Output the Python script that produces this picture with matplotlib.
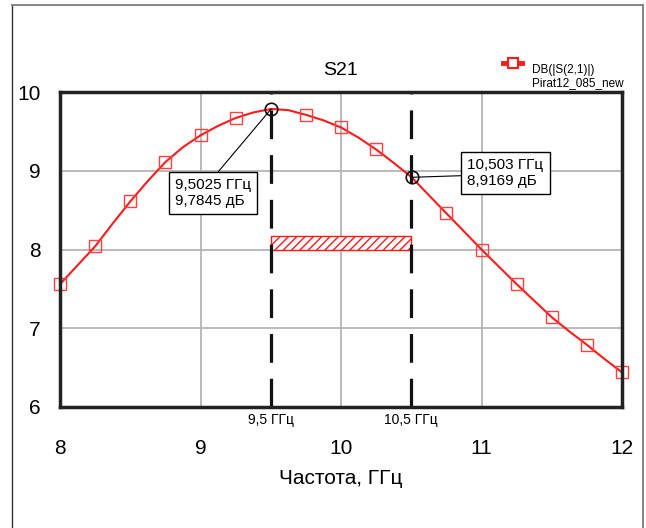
import numpy as np
import matplotlib
matplotlib.use("Agg")
import matplotlib.pyplot as plt
from matplotlib.lines import Line2D
from matplotlib.patches import Rectangle

plt.rcParams['font.family'] = ['Liberation Sans', 'DejaVu Sans']
plt.rcParams['hatch.linewidth'] = 1.0

# S21 curve (GHz, dB)
freq = [8.0, 8.125, 8.25, 8.375, 8.5, 8.625, 8.75, 8.875, 9.0, 9.125, 9.25,
        9.375, 9.5025, 9.625, 9.75, 9.875, 10.0, 10.125, 10.25, 10.375, 10.503,
        10.625, 10.75, 10.875, 11.0, 11.125, 11.25, 11.375, 11.5, 11.625,
        11.75, 11.875, 12.0]
s21 = [7.56, 7.80, 8.04, 8.33, 8.61, 8.87, 9.11, 9.30, 9.45, 9.57, 9.67,
       9.74, 9.7845, 9.77, 9.71, 9.64, 9.55, 9.42, 9.27, 9.10, 8.9169,
       8.69, 8.46, 8.23, 8.00, 7.78, 7.56, 7.35, 7.14, 6.96,
       6.79, 6.61, 6.44]
# square markers every 0.25 GHz (none at 9.5 / 10.5)
mark_idx = [0, 2, 4, 6, 8, 10, 14, 16, 18, 22, 24, 26, 28, 30, 32]

# marker readouts
m_freq = [9.5025, 10.503]
m_val = [9.7845, 8.9169]
m_text = ["9,5025 ГГц\n9,7845 дБ", "10,503 ГГц\n8,9169 дБ"]

# band limits and spec mask
band = [9.5, 10.5]
band_text = ["9,5 ГГц", "10,5 ГГц"]
mask_lo, mask_hi = 8.0, 8.175

red = '#ff1a1a'

fig = plt.figure(figsize=(6.46, 5.28), dpi=100)
ax = fig.add_axes([60/646, 1-407/528, 562/646, 315/528])

ax.set_xlim(8, 12)
ax.set_ylim(6, 10)
ax.set_xticks([8, 9, 10, 11, 12])
ax.set_yticks([6, 7, 8, 9, 10])
ax.grid(True, color='#b4b4b4', lw=1.3)
ax.set_axisbelow(True)
ax.tick_params(length=0, labelsize=15)
ax.tick_params(axis='x', pad=23)
ax.tick_params(axis='y', pad=14)
for sp in ax.spines.values():
    sp.set_linewidth(2.5)
    sp.set_color('#222222')
    sp.set_zorder(5)

ax.set_title("S21", fontsize=14, pad=12)
ax.set_xlabel("Частота, ГГц", fontsize=15, labelpad=8)

# mask rectangle
ax.add_patch(Rectangle((band[0], mask_lo), band[1]-band[0], mask_hi-mask_lo,
                       facecolor='white', edgecolor=red, hatch='////', lw=1.0,
                       zorder=2))

ax.plot(freq, s21, color=red, lw=1.5, marker='s', markersize=8,
        markerfacecolor='none', markeredgecolor='#ff4040', markeredgewidth=1.0,
        markevery=mark_idx, clip_on=False, zorder=3)

for b, t in zip(band, band_text):
    ax.axvline(b, color='#111111', lw=2.3, linestyle=(0, (9, 5)), zorder=4)
    ax.text(b, 5.83, t, ha='center', va='center', fontsize=10)

ax.plot(m_freq, m_val, 'o', markersize=9, markerfacecolor='none',
        markeredgecolor='#111111', markeredgewidth=1.2, zorder=6)

pos = [(9.087, 8.716), (11.171, 8.97)]
rel = [(0.5, 1.0), (0.0, 0.42)]
for f, v, t, p, r in zip(m_freq, m_val, m_text, pos, rel):
    ax.annotate(t, xy=(f, v), xytext=p, textcoords='data', ha='center',
                va='center', multialignment='left', fontsize=11,
                linespacing=1.15, zorder=7,
                bbox=dict(boxstyle='square,pad=0.4', fc='white',
                          ec='black', lw=1.0),
                arrowprops=dict(arrowstyle='-', color='black', lw=0.8,
                                relpos=r, shrinkA=0, shrinkB=0))

# legend
fig.add_artist(Line2D([503/646, 512.5/646, 522/646], [1-63/528]*3, color=red,
                      lw=3.5, marker='s', markersize=7, markevery=[1],
                      markerfacecolor='white', markeredgecolor=red,
                      markeredgewidth=1.5))
fig.text(532/646, 1-76.5/528, "DB(|S(2,1)|)\nPirat12_085_new", fontsize=8.5,
         va='center', ha='left', linespacing=1.1)

# outer frame
fig.add_artist(Line2D([12/646, 12/646], [0, 1-5/528], color='#333333', lw=1.0))
fig.add_artist(Line2D([12/646, 643/646], [1-5/528, 1-5/528], color='#888888', lw=1.5))
fig.add_artist(Line2D([643/646, 643/646], [0, 1-5/528], color='#888888', lw=1.5))

fig.savefig("out.png", dpi=100)
